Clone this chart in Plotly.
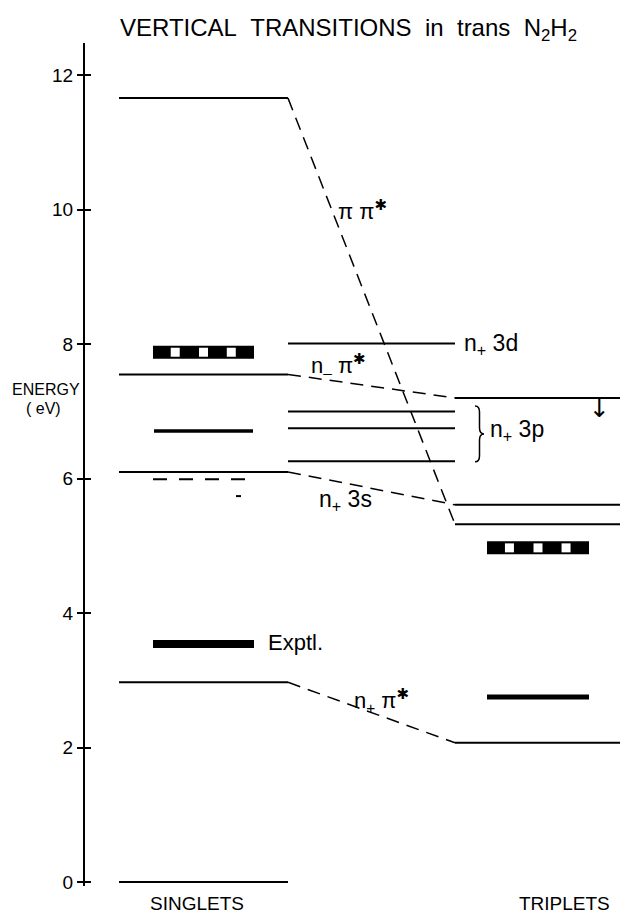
import plotly.graph_objects as go

# ---------------- data (energies in eV) ----------------
singlet_states = ["ground", "n+pi*", "n+3s", "n-pi*", "pipi*"]
singlet_calc = [0.0, 2.97, 6.10, 7.55, 11.66]

rydberg_states = ["n+3d", "n+3p a", "n+3p b", "n+3p c"]
rydberg_calc = [8.01, 7.00, 6.75, 6.26]

triplet_states = ["n+pi*", "pipi*", "n+3s", "n-pi*"]
triplet_calc = [2.07, 5.32, 5.61, 7.20]

# correlation lines singlet -> triplet
corr_names = ["n+pi*", "n+3s", "n-pi*", "pipi*"]
corr_singlet = [2.97, 6.10, 7.55, 11.66]
corr_triplet = [2.07, 5.61, 7.20, 5.32]

# experimental values
singlet_exptl_solid = [3.54]
singlet_exptl_line = [6.71]
singlet_exptl_dashed = [5.99]
singlet_exptl_tick = [5.74]
singlet_exptl_band = [7.88]
triplet_exptl_solid = [2.75]
triplet_exptl_band = [4.97]
triplet_arrow_level = [7.20]

yticks = [0, 2, 4, 6, 8, 10, 12]

# ---------------- layout geometry (x units = px) ----------------
W, H = 620, 916
ML, MR, MT, MB = 85, 0, 43, 30
SING = (119, 288)
MID = (288, 455)
TRIP = (455, 620)
SING_EX = (153, 254)
TRIP_EX = (487, 589)
FONT = "Liberation Sans, Arial, sans-serif"
BLACK = "black"

fig = go.Figure()


def hseg(x0, x1, y, width=2, dash="solid", color=BLACK):
    fig.add_trace(go.Scatter(x=[x0, x1], y=[y, y], mode="lines",
                             line=dict(color=color, width=width, dash=dash),
                             hoverinfo="skip", showlegend=False))


def band(x0, x1, y):
    hseg(x0, x1, y, width=13)
    fr = [0.22, 0.5, 0.775]
    fig.add_trace(go.Scatter(x=[x0 + f * (x1 - x0) for f in fr], y=[y] * 3,
                             mode="markers",
                             marker=dict(symbol="square", size=9, color="white",
                                         line=dict(width=0)),
                             hoverinfo="skip", showlegend=False))


# calculated levels
for e in singlet_calc:
    hseg(*SING, e, width=2)
for e in rydberg_calc:
    hseg(*MID, e, width=2)
for e in triplet_calc:
    hseg(*TRIP, e, width=2)

# correlation dashed lines
for s, t in zip(corr_singlet, corr_triplet):
    fig.add_trace(go.Scatter(x=[MID[0], MID[1]], y=[s, t], mode="lines",
                             line=dict(color=BLACK, width=1.5, dash="13px,8px"),
                             hoverinfo="skip", showlegend=False))

# experimental singlets
for e in singlet_exptl_solid:
    hseg(*SING_EX, e, width=8)
for e in singlet_exptl_line:
    hseg(SING_EX[0] + 1, SING_EX[1] - 1, e, width=3.5)
for e in singlet_exptl_dashed:
    hseg(*SING_EX, e, width=2, dash="14px,12px")
for e in singlet_exptl_tick:
    hseg(236, 241, e, width=2)
for e in singlet_exptl_band:
    band(*SING_EX, e)

# experimental triplets
for e in triplet_exptl_solid:
    hseg(*TRIP_EX, e, width=5)
for e in triplet_exptl_band:
    band(*TRIP_EX, e)

# brace for n+3p, built from the 3p levels
p3 = rydberg_calc[1:]
ytop, ybot = max(p3) + 0.08, min(p3) - 0.01
ymid = (ytop + ybot) / 2
bx0, bw, c = 475, 9, 0.09
path = (f"M {bx0},{ytop} Q {bx0 + bw/2},{ytop} {bx0 + bw/2},{ytop - c} "
        f"L {bx0 + bw/2},{ymid + c} Q {bx0 + bw/2},{ymid} {bx0 + bw},{ymid} "
        f"Q {bx0 + bw/2},{ymid} {bx0 + bw/2},{ymid - c} "
        f"L {bx0 + bw/2},{ybot + c} Q {bx0 + bw/2},{ybot} {bx0},{ybot}")
fig.add_shape(type="path", path=path, xref="x", yref="y",
              line=dict(color=BLACK, width=1.5))

ann = []


def label(x, y, text, size=22, xanchor="center", family=FONT):
    ann.append(dict(x=x, y=y, xref="x", yref="y", text=text, showarrow=False,
                    xanchor=xanchor, yanchor="middle",
                    font=dict(family=family, size=size, color=BLACK)))


def plabel(px, py, text, size=18, xanchor="center"):
    # position given in page pixels, converted to paper coordinates
    xp = (px - ML) / (W - ML - MR)
    yp = (H - MB - py) / (H - MT - MB)
    ann.append(dict(x=xp, y=yp, xref="paper", yref="paper", text=text,
                    showarrow=False, xanchor=xanchor, yanchor="middle",
                    font=dict(family=FONT, size=size, color=BLACK)))


STAR = "<sup><span style='font-family:DejaVu Sans;font-size:15px'><b>✱</b></span></sup>"
label(362, 10.0, "π π" + STAR, size=22)
label(338, 7.68, "n<sub>–</sub> π" + STAR, size=22)
label(462, 7.99, "n<sub>+</sub> 3d", size=23, xanchor="left")
label(488, 6.72, "n<sub>+</sub> 3p", size=23, xanchor="left")
label(345, 5.67, "n<sub>+</sub> 3s", size=23)
label(381, 2.70, "n<sub>+</sub> π" + STAR, size=22)
label(266, singlet_exptl_solid[0] + 0.02, "Exptl.", size=22, xanchor="left")
label(599, triplet_arrow_level[0] - 0.15, "↓", size=25, family="DejaVu Sans")

plabel(46, 389, "ENERGY", size=16)
plabel(43, 408, "( eV)", size=16)
plabel(197, 903, "SINGLETS", size=19)
plabel(564, 903, "TRIPLETS", size=19)
plabel(348, 29, "VERTICAL&nbsp;&nbsp;TRANSITIONS&nbsp; in&nbsp; trans&nbsp; N<sub>2</sub>H<sub>2</sub>", size=24)

fig.update_layout(
    width=W, height=H,
    margin=dict(l=ML, r=MR, t=MT, b=MB, pad=0),
    paper_bgcolor="white", plot_bgcolor="white",
    showlegend=False,
    annotations=ann,
    xaxis=dict(range=[ML, W], visible=False, fixedrange=True),
    yaxis=dict(range=[-0.06, 12.48], showgrid=False, zeroline=False,
               showline=True, linecolor=BLACK, linewidth=2,
               ticks="outside", ticklen=6, tickwidth=1.5, tickcolor=BLACK,
               tickvals=yticks, ticktext=[str(v) for v in yticks],
               tickfont=dict(family=FONT, size=19, color=BLACK),
               minor=dict(tickvals=yticks, ticks="inside", ticklen=6,
                          tickwidth=1.5, tickcolor=BLACK, showgrid=False),
               fixedrange=True),
)

fig.write_html("out.html", config={"displayModeBar": False},
               post_script="document.body.style.margin='0';document.body.style.overflow='hidden';")
